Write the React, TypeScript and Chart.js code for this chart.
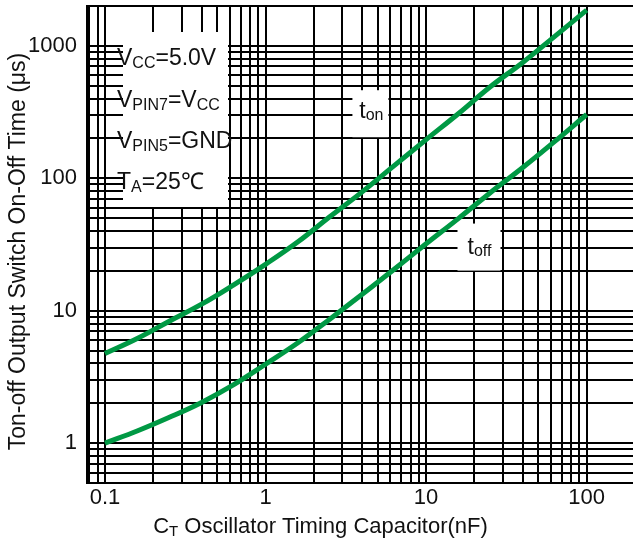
import React, { useEffect, useRef } from 'react';
import { Chart, registerables } from 'chart.js';

Chart.register(...registerables);

// ---- Data (capacitance in nF, time in µs) ----
const CAPACITANCE_NF = [0.1, 0.16, 0.25, 0.4, 0.63, 1, 1.6, 2.5, 4, 6.3, 10, 16, 25, 40, 63, 100];
const T_ON_US = [4.75, 6.2, 8.3, 11.2, 15.6, 22.4, 33.3, 51, 79, 124, 196, 310, 489, 750, 1175, 1860];
const T_OFF_US = [1.0, 1.24, 1.56, 2.03, 2.75, 3.94, 5.75, 8.6, 13.3, 20.5, 32, 50, 77.5, 120.5, 189, 303];

// ---- Axes ----
const X_MIN = 0.0773;
const X_MAX = 194.3;
const Y_MIN = 0.5;
const Y_MAX = 2000;

const X_GRID = [
  0.08, 0.09,
  0.1, 0.2, 0.3, 0.4, 0.5, 0.6, 0.7, 0.8, 0.9,
  1, 2, 3, 4, 5, 6, 7, 8, 9,
  10, 20, 30, 40, 50, 60, 70, 80, 90,
  100,
];
const X_TICK_VALUES = [0.1, 1, 10, 100];
const X_TICK_LABELS = ['0.1', '1', '10', '100'];

const Y_GRID = [
  0.5, 0.6, 0.7, 0.8, 0.9,
  1, 2, 3, 4, 5, 6, 7, 8, 9,
  10, 20, 30, 40, 50, 60, 70, 80, 90,
  100, 200, 300, 400, 500, 600, 700, 800, 900,
  1000, 2000,
];
const Y_TICK_VALUES = [1, 10, 100, 1000];
const Y_TICK_LABELS = ['1', '10', '100', '1000'];

const X_TITLE = [
  { text: 'C' },
  { text: 'T', sub: true },
  { text: ' Oscillator Timing Capacitor(nF)' },
];
const Y_TITLE = [{ text: 'Ton-off Output Switch On-Off Time (μs)' }];

const CONDITIONS = [
  [{ text: 'V' }, { text: 'CC', sub: true }, { text: '=5.0V' }],
  [{ text: 'V' }, { text: 'PIN7', sub: true }, { text: '=V' }, { text: 'CC', sub: true }],
  [{ text: 'V' }, { text: 'PIN5', sub: true }, { text: '=GND' }],
  [{ text: 'T' }, { text: 'A', sub: true }, { text: '=25℃' }],
];
const TON_LABEL = [{ text: 't' }, { text: 'on', sub: true }];
const TOFF_LABEL = [{ text: 't' }, { text: 'off', sub: true }];
// label anchors in data units (capacitance nF, time µs)
const TON_LABEL_AT = { x: 4.5, y: 310 };
const TOFF_LABEL_AT = { x: 21.2, y: 30.5 };

const FONT_FAMILY = '"Liberation Sans", Arial, Helvetica, sans-serif';
const TEXT_COLOR = '#111111';
const GREEN = '#009944';

type Part = { text: string; sub?: boolean };

function labelFor(value: number, values: number[], labels: string[]): string {
  for (let i = 0; i < values.length; i++) {
    if (Math.abs(value - values[i]) < values[i] * 1e-9) return labels[i];
  }
  return '';
}

function drawRich(
  ctx: CanvasRenderingContext2D,
  parts: Part[],
  x: number,
  y: number,
  mainSize: number,
  subSize: number,
  subShift: number,
  align: 'left' | 'center'
) {
  const font = (s: number) => `${s}px ${FONT_FAMILY}`;
  let total = 0;
  for (const p of parts) {
    ctx.font = font(p.sub ? subSize : mainSize);
    total += ctx.measureText(p.text).width;
  }
  let cx = align === 'center' ? x - total / 2 : x;
  ctx.textAlign = 'left';
  ctx.textBaseline = 'alphabetic';
  ctx.fillStyle = TEXT_COLOR;
  for (const p of parts) {
    ctx.font = font(p.sub ? subSize : mainSize);
    ctx.fillText(p.text, cx, y + (p.sub ? subShift : 0));
    cx += ctx.measureText(p.text).width;
  }
}

const annotationPlugin = {
  id: 'datasheetAnnotations',
  beforeDatasetsDraw(chart: any) {
    const ctx: CanvasRenderingContext2D = chart.ctx;
    const xs = chart.scales.x;
    const ys = chart.scales.y;
    const a = chart.chartArea;
    ctx.save();
    ctx.fillStyle = '#ffffff';
    // condition box (white background covering grid)
    ctx.fillRect(a.left + 36, a.top + 26, 105, 175);
    // curve label boxes, anchored to data coordinates
    const tonX = xs.getPixelForValue(TON_LABEL_AT.x);
    const tonY = ys.getPixelForValue(TON_LABEL_AT.y);
    ctx.fillRect(tonX - 18, tonY - 23, 36, 47);
    const toffX = xs.getPixelForValue(TOFF_LABEL_AT.x);
    const toffY = ys.getPixelForValue(TOFF_LABEL_AT.y);
    ctx.fillRect(toffX - 21, toffY - 23, 43, 47);

    const left = a.left + 30;
    const baselines = [59, 100.5, 141.5, 182.5];
    CONDITIONS.forEach((line, i) => {
      drawRich(ctx, line as Part[], left, a.top + baselines[i], 23, 16, 3, 'left');
    });
    drawRich(ctx, TON_LABEL, tonX + 1, tonY + 5, 23, 16, 2, 'center');
    drawRich(ctx, TOFF_LABEL, toffX + 1, toffY + 7, 23, 16, 2, 'center');
    ctx.restore();
  },
  afterDraw(chart: any) {
    const ctx: CanvasRenderingContext2D = chart.ctx;
    ctx.save();
    drawRich(ctx, X_TITLE, chart.width / 2 + 4, 533, 22, 15, 3, 'center');
    ctx.restore();
    ctx.save();
    ctx.translate(25, 251.5);
    ctx.rotate(-Math.PI / 2);
    drawRich(ctx, Y_TITLE, 0, 0, 23, 16, 3, 'center');
    ctx.restore();
  },
};

export default function App() {
  const canvasRef = useRef<HTMLCanvasElement | null>(null);

  useEffect(() => {
    if (!canvasRef.current) return;
    const chart = new Chart(canvasRef.current, {
      type: 'line',
      data: {
        datasets: [
          {
            label: 'ton',
            data: CAPACITANCE_NF.map((c, i) => ({ x: c, y: T_ON_US[i] })),
            borderColor: GREEN,
            borderWidth: 5,
            pointRadius: 0,
            fill: false,
            tension: 0.4,
          },
          {
            label: 'toff',
            data: CAPACITANCE_NF.map((c, i) => ({ x: c, y: T_OFF_US[i] })),
            borderColor: GREEN,
            borderWidth: 5,
            pointRadius: 0,
            fill: false,
            tension: 0.4,
          },
        ],
      },
      options: {
        animation: false,
        responsive: false,
        devicePixelRatio: 1,
        layout: { padding: { top: 6, right: 0, bottom: 0, left: 0 } },
        plugins: {
          legend: { display: false },
          tooltip: { enabled: false },
        },
        scales: {
          x: {
            type: 'logarithmic',
            position: 'bottom',
            min: X_MIN,
            max: X_MAX,
            afterBuildTicks: (scale: any) => {
              scale.ticks = X_GRID.map((v) => ({ value: v }));
            },
            afterFit: (scale: any) => {
              scale.height = 68;
              scale.paddingLeft = 0;
              scale.paddingRight = 0;
            },
            grid: {
              color: '#000000',
              lineWidth: 2,
              drawTicks: false,
            },
            border: { display: true, color: '#000000', width: 2 },
            ticks: {
              autoSkip: false,
              maxRotation: 0,
              minRotation: 0,
              padding: 2,
              color: TEXT_COLOR,
              font: { family: FONT_FAMILY, size: 22 },
              callback: (value: any) => labelFor(Number(value), X_TICK_VALUES, X_TICK_LABELS),
            },
            title: { display: false },
          },
          y: {
            type: 'logarithmic',
            position: 'left',
            min: Y_MIN,
            max: Y_MAX,
            afterBuildTicks: (scale: any) => {
              scale.ticks = Y_GRID.map((v) => ({ value: v }));
            },
            afterFit: (scale: any) => {
              scale.width = 87;
              scale.paddingTop = 0;
              scale.paddingBottom = 0;
            },
            grid: {
              color: '#000000',
              lineWidth: 2,
              drawTicks: false,
            },
            border: { display: true, color: '#000000', width: 2 },
            ticks: {
              autoSkip: false,
              padding: 10,
              color: TEXT_COLOR,
              font: { family: FONT_FAMILY, size: 22 },
              callback: (value: any) => labelFor(Number(value), Y_TICK_VALUES, Y_TICK_LABELS),
            },
            title: { display: false },
          },
        },
      },
      plugins: [annotationPlugin],
    } as any);
    return () => chart.destroy();
  }, []);

  return (
    <div style={{ position: 'absolute', left: 0, top: 0, width: 633, height: 551, background: '#ffffff' }}>
      <canvas ref={canvasRef} width={633} height={551} style={{ width: 633, height: 551, display: 'block' }} />
    </div>
  );
}
